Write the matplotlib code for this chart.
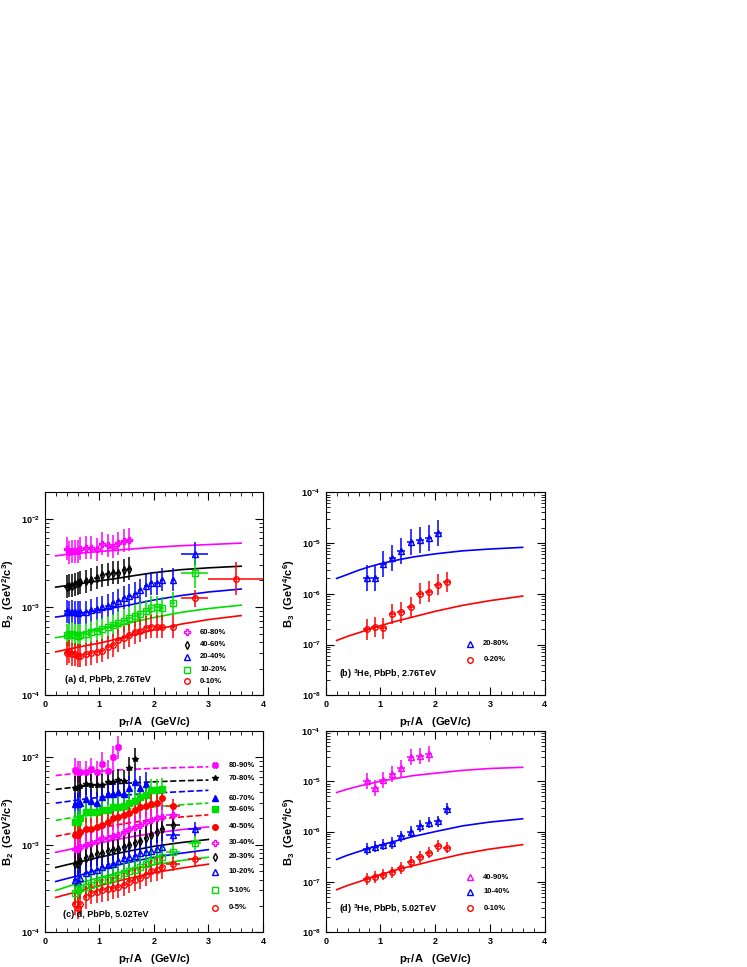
import matplotlib
matplotlib.use("Agg")
import matplotlib.pyplot as plt

plt.rcParams["font.family"] = ["Liberation Sans", "DejaVu Sans"]
plt.rcParams["font.weight"] = "bold"
plt.rcParams["mathtext.fontset"] = "custom"
plt.rcParams["mathtext.rm"] = "Liberation Sans:bold"
plt.rcParams["mathtext.bf"] = "Liberation Sans:bold"
plt.rcParams["mathtext.it"] = "Liberation Sans:bold"
plt.rcParams["mathtext.default"] = "bf"

MAG, BLK, BLU, GRN, RED = "#ff00ff", "#000000", "#0000ff", "#00dd00", "#ff0000"

# ---------------- panel (a): d, PbPb 2.76 TeV ----------------
A_X = [0.4, 0.45, 0.5, 0.55, 0.6, 0.65, 0.75, 0.85, 0.95, 1.05, 1.15, 1.25, 1.35, 1.45, 1.55]
A_X_LONG = A_X + [1.65, 1.75, 1.85, 1.95, 2.05, 2.15, 2.35]
a_6080 = [4.6, 4.2, 4.3, 4.3, 4.3, 4.6, 4.7, 4.7, 4.5, 5.2, 5.0, 4.8, 5.3, 5.6, 5.8]
a_4060 = [1.7, 1.75, 1.75, 1.8, 1.85, 1.9, 1.95, 2.05, 2.15, 2.3, 2.35, 2.45, 2.45, 2.6, 2.7]
a_2040 = [0.9, 0.87, 0.88, 0.87, 0.86, 0.87, 0.87, 0.92, 0.95, 1.0, 1.03, 1.1, 1.18, 1.27, 1.35,
          1.42, 1.55, 1.75, 1.85, 1.85, 2.05, 2.05]
a_1020 = [0.48, 0.49, 0.5, 0.48, 0.47, 0.48, 0.49, 0.52, 0.54, 0.56, 0.59, 0.62, 0.66, 0.7, 0.75,
          0.8, 0.84, 0.9, 0.98, 1.0, 0.97, 1.1]
a_0010 = [0.3, 0.31, 0.29, 0.29, 0.28, 0.28, 0.29, 0.3, 0.31, 0.32, 0.35, 0.37, 0.42, 0.45, 0.48,
          0.52, 0.54, 0.58, 0.6, 0.6, 0.6, 0.6]
a_ext_x = [2.75, 2.75, 2.75, 3.5]
a_ext_y = [4.0, 2.4, 1.25, 2.1]
a_ext_xerr = [0.25, 0.25, 0.25, 0.5]
a_ext_rel = [0.35, 0.45, 0.25, 0.55]
a_ext_col = [BLU, GRN, RED, RED]
a_ext_mk = ["^", "s", "o", "o"]

LINE_X = [0.2, 0.4, 0.6, 0.8, 1.0, 1.3, 1.6, 2.0, 2.5, 3.0, 3.6]
a_line_6080 = [3.8, 3.95, 4.05, 4.15, 4.25, 4.4, 4.55, 4.75, 4.95, 5.1, 5.3]
a_line_4060 = [1.68, 1.75, 1.82, 1.9, 1.98, 2.1, 2.25, 2.45, 2.65, 2.78, 2.9]
a_line_2040 = [0.77, 0.8, 0.84, 0.88, 0.92, 0.99, 1.07, 1.2, 1.35, 1.48, 1.6]
a_line_1020 = [0.45, 0.47, 0.5, 0.53, 0.56, 0.61, 0.67, 0.76, 0.87, 0.96, 1.05]
a_line_0010 = [0.31, 0.33, 0.35, 0.37, 0.39, 0.43, 0.48, 0.55, 0.64, 0.72, 0.8]

# ---------------- panel (c): d, PbPb 5.02 TeV ----------------
C_X = [0.55, 0.6, 0.65, 0.75, 0.85, 0.95, 1.05, 1.15, 1.25, 1.35, 1.45, 1.55,
       1.65, 1.75, 1.85, 1.95, 2.05, 2.15]
c_8090 = [7.2, 6.8, 6.8, 6.8, 7.3, 6.8, 8.5, 7.0, 10.0, 13.0]
c_7080 = [4.5, 4.5, 4.7, 5.0, 4.8, 4.8, 4.8, 5.2, 5.2, 5.5, 5.3, 7.5, 9.5]
c_6070 = [2.9, 2.9, 3.0, 3.3, 3.2, 3.0, 3.5, 3.8, 3.8, 4.0, 3.8, 4.5, 5.2, 4.5, 5.0]
c_5060 = [1.8, 1.8, 2.0, 2.4, 2.4, 2.4, 2.5, 2.5, 2.7, 2.7, 2.8, 3.0, 3.2, 3.5, 3.7, 4.2, 4.2, 4.3]
c_4050 = [1.3, 1.3, 1.4, 1.5, 1.5, 1.6, 1.7, 1.8, 2.0, 2.1, 2.2, 2.3, 2.5, 2.7, 2.8, 2.9, 3.0, 3.4]
c_3040 = [0.9, 0.9, 0.95, 1.0, 1.05, 1.1, 1.2, 1.2, 1.25, 1.3, 1.4, 1.5, 1.6, 1.7, 1.8, 1.9, 2.0, 2.1]
c_2030 = [0.6, 0.6, 0.65, 0.7, 0.75, 0.78, 0.8, 0.85, 0.88, 0.9, 0.95, 1.0, 1.05, 1.1, 1.2, 1.3, 1.4, 1.5]
c_1020 = [0.4, 0.38, 0.42, 0.48, 0.5, 0.52, 0.55, 0.58, 0.6, 0.65, 0.7, 0.72, 0.75, 0.8, 0.82, 0.85, 0.9, 0.95]
c_0510 = [0.28, 0.3, 0.32, 0.33, 0.35, 0.37, 0.4, 0.4, 0.42, 0.45, 0.48, 0.5, 0.52, 0.55, 0.6, 0.65, 0.68, 0.72]
c_0005 = [0.21, 0.19, 0.21, 0.25, 0.28, 0.29, 0.3, 0.31, 0.32, 0.33, 0.35, 0.38, 0.4, 0.42, 0.45, 0.5, 0.52, 0.55]
C_EXT_X = [2.35, 2.75]
c_4050_ext = [2.8]
c_3040_ext = [2.2]
c_2030_ext = [1.7]
c_1020_ext = [1.3, 1.5]
c_0510_ext = [0.82, 1.05]
c_0005_ext = [0.6, 0.68]

C_LINE_X = [0.2, 0.4, 0.6, 0.8, 1.0, 1.3, 1.6, 2.0, 2.5, 3.0]
c_line_8090 = [6.2, 6.4, 6.6, 6.8, 6.95, 7.15, 7.3, 7.5, 7.65, 7.8]
c_line_7080 = [4.3, 4.45, 4.6, 4.75, 4.85, 5.0, 5.1, 5.25, 5.4, 5.5]
c_line_6070 = [3.0, 3.12, 3.25, 3.38, 3.48, 3.62, 3.75, 3.9, 4.05, 4.2]
c_line_5060 = [1.9, 2.0, 2.1, 2.2, 2.3, 2.45, 2.58, 2.72, 2.87, 3.0]
c_line_4050 = [1.25, 1.32, 1.4, 1.48, 1.56, 1.68, 1.8, 1.95, 2.08, 2.2]
c_line_3040 = [0.82, 0.87, 0.93, 0.99, 1.05, 1.14, 1.24, 1.36, 1.49, 1.6]
c_line_2030 = [0.55, 0.59, 0.63, 0.67, 0.72, 0.79, 0.86, 0.96, 1.06, 1.15]
c_line_1020 = [0.38, 0.41, 0.44, 0.48, 0.52, 0.58, 0.64, 0.72, 0.8, 0.88]
c_line_0510 = [0.3, 0.33, 0.36, 0.39, 0.42, 0.47, 0.52, 0.59, 0.66, 0.72]
c_line_0005 = [0.25, 0.27, 0.29, 0.32, 0.34, 0.38, 0.42, 0.48, 0.54, 0.6]

# ---------------- panel (b): 3He, PbPb 2.76 TeV ----------------
B_X = [0.75, 0.9, 1.05, 1.22, 1.38, 1.55, 1.72, 1.88, 2.05, 2.22]
b_2080 = [2.0e-6, 2.0e-6, 3.8e-6, 5.0e-6, 7.0e-6, 1.05e-5, 1.15e-5, 1.25e-5, 1.6e-5]
b_0020 = [2.0e-7, 2.2e-7, 2.1e-7, 4.0e-7, 4.3e-7, 5.5e-7, 1.0e-6, 1.1e-6, 1.5e-6, 1.7e-6]
b_line_2080 = [2.0e-6, 2.4e-6, 2.9e-6, 3.4e-6, 3.9e-6, 4.6e-6, 5.3e-6, 6.1e-6, 7.0e-6, 7.6e-6, 8.2e-6]
b_line_0020 = [1.2e-7, 1.45e-7, 1.7e-7, 2.0e-7, 2.35e-7, 2.9e-7, 3.5e-7, 4.5e-7, 5.9e-7, 7.3e-7, 9.0e-7]

# ---------------- panel (d): 3He, PbPb 5.02 TeV ----------------
D_X = [0.75, 0.9, 1.05, 1.22, 1.38, 1.55, 1.72, 1.88, 2.05, 2.22]
d_4090 = [1.0e-5, 7.5e-6, 1.05e-5, 1.4e-5, 1.8e-5, 3.0e-5, 3.2e-5, 3.5e-5]
d_1040 = [4.5e-7, 5.0e-7, 5.5e-7, 6.0e-7, 8.0e-7, 1.0e-6, 1.3e-6, 1.5e-6, 1.6e-6, 2.8e-6]
d_0010 = [1.15e-7, 1.25e-7, 1.4e-7, 1.55e-7, 1.9e-7, 2.5e-7, 3.1e-7, 3.8e-7, 5.2e-7, 4.8e-7]
d_line_4090 = [6.0e-6, 7.0e-6, 8.0e-6, 9.0e-6, 1.0e-5, 1.15e-5, 1.3e-5, 1.45e-5, 1.65e-5, 1.8e-5, 1.9e-5]
d_line_1040 = [2.8e-7, 3.4e-7, 4.0e-7, 4.7e-7, 5.4e-7, 6.6e-7, 8.0e-7, 1.0e-6, 1.3e-6, 1.55e-6, 1.8e-6]
d_line_0010 = [7.0e-8, 8.5e-8, 1.0e-7, 1.2e-7, 1.4e-7, 1.75e-7, 2.1e-7, 2.7e-7, 3.6e-7, 4.5e-7, 5.5e-7]

ms = 4.0


def points(ax, x, y, col, mk, filled=False, rel=0.3, xerr=0.0, scale=1.0):
    ys = [v * scale for v in y]
    ax.errorbar(x[:len(ys)], ys, yerr=[[v * rel / (1 + rel) for v in ys], [v * rel for v in ys]],
                xerr=xerr, fmt=mk, color=col, ms=ms, mfc=col if filled else "none",
                mec=col, mew=1.0, elinewidth=1.1, capsize=0, zorder=3)


def legend_entry(ax, x, y, text, col, mk, filled=False):
    ax.plot([x], [y], mk, color=col, ms=ms, mfc=col if filled else "none", mew=1.0)
    ax.text(x + 0.25, y, text, fontsize=5.5, va="center", ha="left")


def style(ax, ylim, ylabel):
    ax.set_yscale("log")
    ax.set_xlim(0, 4)
    ax.set_ylim(*ylim)
    ax.set_xticks([0, 1, 2, 3, 4])
    ax.set_xticks([i * 0.2 for i in range(21)], minor=True)
    ax.tick_params(which="both", direction="in", top=True, right=True, labelsize=6.5)
    ax.tick_params(which="major", length=6)
    ax.tick_params(which="minor", length=3)
    ax.set_ylabel(ylabel, fontsize=8, fontweight="bold")
    ax.yaxis.set_label_coords(-0.13, 0.5)
    ax.set_xlabel("p$_T$/A   (GeV/c)", fontsize=8, fontweight="bold")


fig = plt.figure(figsize=(7.47, 9.67), dpi=100)
ax_a = fig.add_axes([0.060, 0.281, 0.292, 0.210])
ax_b = fig.add_axes([0.436, 0.281, 0.293, 0.210])
ax_c = fig.add_axes([0.060, 0.036, 0.292, 0.208])
ax_d = fig.add_axes([0.436, 0.036, 0.293, 0.208])

# (a)
s = 1e-3
for y, line, col, mk in [(a_6080, a_line_6080, MAG, "P"), (a_4060, a_line_4060, BLK, "d"),
                         (a_2040, a_line_2040, BLU, "^"), (a_1020, a_line_1020, GRN, "s"),
                         (a_0010, a_line_0010, RED, "o")]:
    ax_a.plot(LINE_X, [v * s for v in line], color=col, lw=1.2)
    xs = A_X if len(y) == len(A_X) else A_X_LONG
    points(ax_a, xs, y, col, mk, rel=0.35, xerr=0.04, scale=s)
for x, y, xe, r, col, mk in zip(a_ext_x, a_ext_y, a_ext_xerr, a_ext_rel, a_ext_col, a_ext_mk):
    points(ax_a, [x], [y], col, mk, rel=r, xerr=xe, scale=s)
for yy, t, col, mk in [(0.52e-3, "60-80%", MAG, "P"), (0.376e-3, "40-60%", BLK, "d"),
                       (0.273e-3, "20-40%", BLU, "^"), (0.194e-3, "10-20%", GRN, "s"),
                       (0.145e-3, "0-10%", RED, "o")]:
    legend_entry(ax_a, 2.6, yy, t, col, mk)
ax_a.text(0.37, 0.15e-3, "(a) d, PbPb, 2.76TeV", fontsize=6.5, va="center")
style(ax_a, (1e-4, 2e-2), "B$_2$  (GeV$^2$/c$^3$)")

# (c)
c_series = [
    (c_8090, [], c_line_8090, MAG, "X", True, "--", "80-90%", 8.1e-3),
    (c_7080, [], c_line_7080, BLK, "*", True, "--", "70-80%", 5.8e-3),
    (c_6070, [], c_line_6070, BLU, "^", True, "--", "60-70%", 3.4e-3),
    (c_5060, [], c_line_5060, GRN, "s", True, "--", "50-60%", 2.56e-3),
    (c_4050, c_4050_ext, c_line_4050, RED, "o", True, "--", "40-50%", 1.6e-3),
    (c_3040, c_3040_ext, c_line_3040, MAG, "P", False, "-", "30-40%", 1.05e-3),
    (c_2030, c_2030_ext, c_line_2030, BLK, "d", False, "-", "20-30%", 0.73e-3),
    (c_1020, c_1020_ext, c_line_1020, BLU, "^", False, "-", "10-20%", 0.49e-3),
    (c_0510, c_0510_ext, c_line_0510, GRN, "s", False, "-", "5-10%", 0.3e-3),
    (c_0005, c_0005_ext, c_line_0005, RED, "o", False, "-", "0-5%", 0.19e-3),
]
for y, ext, line, col, mk, filled, ls, lab, ly in c_series:
    ax_c.plot(C_LINE_X, [v * s for v in line], color=col, lw=1.2, ls=ls)
    points(ax_c, C_X, y, col, mk, filled, rel=0.35, xerr=0.03, scale=s)
    if ext:
        points(ax_c, C_EXT_X[:len(ext)], ext, col, mk, filled, rel=0.2, xerr=0.12, scale=s)
    legend_entry(ax_c, 3.12, ly, lab, col, mk, filled)
ax_c.text(0.33, 0.16e-3, "(c) d, PbPb, 5.02TeV", fontsize=6.5, va="center")
style(ax_c, (1e-4, 2e-2), "B$_2$  (GeV$^2$/c$^3$)")

# (b)
ax_b.plot(LINE_X, b_line_2080, color=BLU, lw=1.2)
ax_b.plot(LINE_X, b_line_0020, color=RED, lw=1.2)
points(ax_b, B_X, b_2080, BLU, "^", rel=0.8, xerr=0.07)
points(ax_b, B_X, b_0020, RED, "o", rel=0.6, xerr=0.07)
legend_entry(ax_b, 2.63, 1.04e-7, "20-80%", BLU, "^")
legend_entry(ax_b, 2.63, 5.0e-8, "0-20%", RED, "o")
ax_b.text(0.25, 2.6e-8, "(b) $^3$He, PbPb, 2.76TeV", fontsize=6.5, va="center")
style(ax_b, (1e-8, 1e-4), "B$_3$  (GeV$^4$/c$^6$)")

# (d)
ax_d.plot(LINE_X, d_line_4090, color=MAG, lw=1.2)
ax_d.plot(LINE_X, d_line_1040, color=BLU, lw=1.2)
ax_d.plot(LINE_X, d_line_0010, color=RED, lw=1.2)
points(ax_d, D_X, d_4090, MAG, "^", rel=0.45, xerr=0.07)
points(ax_d, D_X, d_1040, BLU, "^", rel=0.3, xerr=0.07)
points(ax_d, D_X, d_0010, RED, "o", rel=0.3, xerr=0.07)
legend_entry(ax_d, 2.63, 1.24e-7, "40-90%", MAG, "^")
legend_entry(ax_d, 2.63, 6.3e-8, "10-40%", BLU, "^")
legend_entry(ax_d, 2.63, 3.0e-8, "0-10%", RED, "o")
ax_d.text(0.25, 2.9e-8, "(d) $^3$He, PbPb, 5.02TeV", fontsize=6.5, va="center")
style(ax_d, (1e-8, 1e-4), "B$_3$  (GeV$^4$/c$^6$)")

fig.savefig("out.png", dpi=100)
